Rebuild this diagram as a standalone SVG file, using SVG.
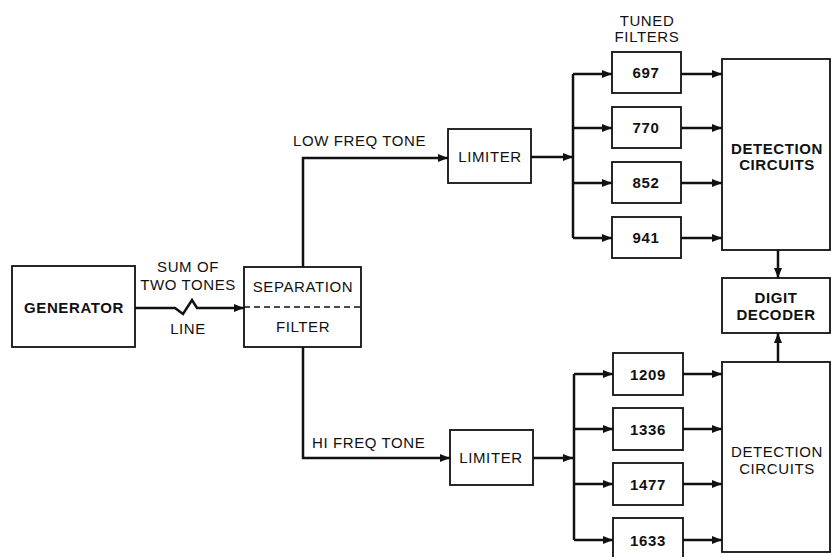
<svg xmlns="http://www.w3.org/2000/svg" width="831" height="557" viewBox="0 0 831 557">
<defs>
<marker id="arr" viewBox="0 0 10 8" refX="10" refY="4" markerWidth="10" markerHeight="8" markerUnits="userSpaceOnUse" orient="auto">
<path d="M0,0 L10,4 L0,8 Z" fill="#111"/>
</marker>
<style>
.box{fill:#fff;stroke:#111;stroke-width:1.8}
.ln{fill:none;stroke:#111;stroke-width:2.5}
.t{font-family:"Liberation Sans",Arial,sans-serif;font-size:15px;letter-spacing:0.6px;fill:#111;text-anchor:middle}
.b{font-weight:bold}
.lbl{font-family:"Liberation Sans",Arial,sans-serif;font-size:15px;letter-spacing:0.6px;fill:#111}
</style>
</defs>
<rect width="831" height="557" fill="#fff"/>

<g id="connectors">
<path class="ln" d="M135,308 L175,308 L183,314 L192,300 L197,308 L244,308" marker-end="url(#arr)"/>
<path class="ln" d="M303,267 L303,158 L448,158" marker-end="url(#arr)"/>
<path class="ln" d="M303,347 L303,458 L450,458" marker-end="url(#arr)"/>
<path class="ln" d="M531,157 L573,157" marker-end="url(#arr)"/>
<path class="ln" d="M533,458 L573,458" marker-end="url(#arr)"/>
<path class="ln" d="M573,74 L573,238"/>
<path class="ln" d="M573,74 L612,74" marker-end="url(#arr)"/>
<path class="ln" d="M573,128 L612,128" marker-end="url(#arr)"/>
<path class="ln" d="M573,183 L612,183" marker-end="url(#arr)"/>
<path class="ln" d="M573,238 L612,238" marker-end="url(#arr)"/>
<path class="ln" d="M681,74 L722,74" marker-end="url(#arr)"/>
<path class="ln" d="M681,128 L722,128" marker-end="url(#arr)"/>
<path class="ln" d="M681,183 L722,183" marker-end="url(#arr)"/>
<path class="ln" d="M681,238 L722,238" marker-end="url(#arr)"/>
<path class="ln" d="M574,374 L574,540"/>
<path class="ln" d="M574,374 L613,374" marker-end="url(#arr)"/>
<path class="ln" d="M574,429 L613,429" marker-end="url(#arr)"/>
<path class="ln" d="M574,484 L613,484" marker-end="url(#arr)"/>
<path class="ln" d="M574,540 L613,540" marker-end="url(#arr)"/>
<path class="ln" d="M683,374 L722,374" marker-end="url(#arr)"/>
<path class="ln" d="M683,429 L722,429" marker-end="url(#arr)"/>
<path class="ln" d="M683,484 L722,484" marker-end="url(#arr)"/>
<path class="ln" d="M683,540 L722,540" marker-end="url(#arr)"/>
<path class="ln" d="M778,250 L778,278" marker-end="url(#arr)"/>
<path class="ln" d="M778,362 L778,333" marker-end="url(#arr)"/>
</g>

<g id="labels">
<text class="t" x="188" y="272">SUM OF</text>
<text class="t" x="188" y="290">TWO TONES</text>
<text class="t" x="188" y="334">LINE</text>
<text class="lbl" x="293" y="146">LOW FREQ TONE</text>
<text class="lbl" x="312" y="448">HI FREQ TONE</text>
<text class="t" x="647" y="26">TUNED</text>
<text class="t" x="647" y="42">FILTERS</text>
</g>

<g id="generator">
<rect class="box" x="12" y="266" width="123" height="81"/>
<text class="t b" x="74" y="313">GENERATOR</text>
</g>

<g id="separation-filter">
<rect class="box" x="244" y="267" width="117" height="80"/>
<line x1="244" y1="307" x2="361" y2="307" stroke="#111" stroke-width="1.5" stroke-dasharray="6,4"/>
<text class="t" x="303" y="292">SEPARATION</text>
<text class="t" x="303" y="332">FILTER</text>
</g>

<g id="limiter-low">
<rect class="box" x="448" y="129" width="83" height="54"/>
<text class="t" x="490" y="162">LIMITER</text>
</g>

<g id="limiter-high">
<rect class="box" x="450" y="430" width="83" height="55"/>
<text class="t" x="491" y="463">LIMITER</text>
</g>

<g id="f697"><rect class="box" x="612" y="52" width="69" height="41"/><text class="t b" x="646" y="78">697</text></g>
<g id="f770"><rect class="box" x="612" y="107" width="69" height="41"/><text class="t b" x="646" y="133">770</text></g>
<g id="f852"><rect class="box" x="612" y="162" width="69" height="41"/><text class="t b" x="646" y="188">852</text></g>
<g id="f941"><rect class="box" x="612" y="217" width="69" height="41"/><text class="t b" x="646" y="243">941</text></g>

<g id="f1209"><rect class="box" x="613" y="353" width="70" height="42"/><text class="t b" x="648" y="380">1209</text></g>
<g id="f1336"><rect class="box" x="613" y="408" width="70" height="42"/><text class="t b" x="648" y="435">1336</text></g>
<g id="f1477"><rect class="box" x="613" y="463" width="70" height="42"/><text class="t b" x="648" y="490">1477</text></g>
<g id="f1633"><rect class="box" x="613" y="518" width="70" height="45"/><text class="t b" x="648" y="546">1633</text></g>

<g id="detection-low">
<rect class="box" x="722" y="59" width="108" height="191"/>
<text class="t b" x="777" y="154">DETECTION</text>
<text class="t b" x="777" y="170">CIRCUITS</text>
</g>

<g id="digit-decoder">
<rect class="box" x="722" y="278" width="108" height="55"/>
<text class="t b" x="776" y="303">DIGIT</text>
<text class="t b" x="776" y="320">DECODER</text>
</g>

<g id="detection-high">
<rect class="box" x="722" y="362" width="108" height="190"/>
<text class="t" x="777" y="457">DETECTION</text>
<text class="t" x="777" y="474">CIRCUITS</text>
</g>
</svg>
